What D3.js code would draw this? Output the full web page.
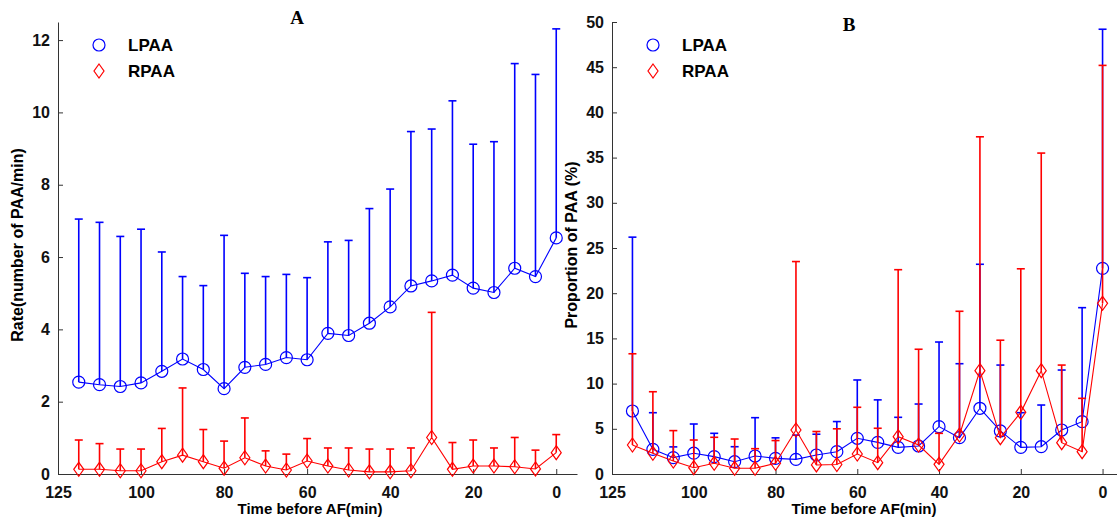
<!DOCTYPE html>
<html>
<head>
<meta charset="utf-8">
<script src="https://cdn.jsdelivr.net/npm/d3@7"></script>
<style>
  body { margin: 0; background: #fff; }
  text { font-family: "Liberation Sans", Arial, sans-serif; }
  .tick text { font-weight: bold; font-size: 16px; fill: #111; }
  .axis path, .axis line { stroke: #333; }
</style>
</head>
<body>
<div id="chart"></div>
<script>
// time before AF (min)
var times = [115, 110, 105, 100, 95, 90, 85, 80, 75, 70, 65, 60, 55, 50, 45, 40, 35, 30, 25, 20, 15, 10, 5, 0];
var xTickValues = [120, 100, 80, 60, 40, 20, 0];
var xTickLabels = ["125", "100", "80", "60", "40", "20", "0"];

// panel A: rate (number of PAA/min), mean and upper error
var rateL = [2.54, 2.47, 2.42, 2.52, 2.84, 3.18, 2.89, 2.36, 2.95, 3.03, 3.22, 3.16, 3.89, 3.83, 4.17, 4.62, 5.2, 5.34, 5.5, 5.14, 5.02, 5.69, 5.46, 6.53];
var rateLTop = [7.05, 6.96, 6.57, 6.77, 6.14, 5.46, 5.21, 6.6, 5.55, 5.46, 5.52, 5.43, 6.42, 6.46, 7.34, 7.88, 9.47, 9.54, 10.32, 9.12, 9.19, 11.35, 11.05, 12.31];
var rateR = [0.13, 0.13, 0.09, 0.09, 0.34, 0.52, 0.34, 0.16, 0.45, 0.22, 0.11, 0.36, 0.22, 0.11, 0.06, 0.06, 0.09, 1.01, 0.13, 0.22, 0.22, 0.2, 0.14, 0.59];
var rateRTop = [0.94, 0.84, 0.69, 0.69, 1.26, 2.38, 1.23, 0.91, 1.55, 0.64, 0.55, 0.98, 0.72, 0.72, 0.69, 0.69, 0.72, 4.47, 0.87, 0.94, 0.72, 1.01, 0.66, 1.09];
var rateTicks = [0, 2, 4, 6, 8, 10, 12];

// panel B: proportion of PAA (%), mean and upper error
var propL = [6.97, 2.73, 1.81, 2.3, 1.92, 1.36, 1.99, 1.73, 1.62, 2.1, 2.47, 3.95, 3.5, 2.95, 3.1, 5.24, 4.02, 7.27, 4.76, 2.95, 3.02, 4.87, 5.79, 22.75];
var propLTop = [26.2, 6.78, 3.0, 5.53, 4.5, 3.02, 6.23, 4.0, 4.3, 4.4, 5.8, 10.4, 8.2, 6.27, 7.74, 14.6, 12.2, 23.2, 12.05, 6.78, 7.63, 11.5, 18.4, 49.2];
var propR = [3.21, 2.29, 1.44, 0.7, 1.18, 0.63, 0.63, 1.18, 4.87, 1.0, 1.05, 2.21, 1.25, 4.13, 3.21, 1.07, 4.31, 11.43, 4.02, 6.82, 11.43, 3.47, 2.47, 18.88];
var propRTop = [13.3, 9.1, 4.8, 3.76, 4.06, 3.87, 2.8, 3.7, 23.5, 4.7, 5.0, 7.38, 5.06, 22.6, 13.8, 4.5, 18.0, 37.3, 14.8, 22.7, 35.5, 12.05, 8.37, 45.2];
var propTicks = [0, 5, 10, 15, 20, 25, 30, 35, 40, 45, 50];

var blue = "#0000ff";
var red = "#ff0000";

var svg = d3.select("#chart")
  .append("svg")
  .attr("width", 1117)
  .attr("height", 521);

function drawPanel(opt) {
  var g = svg.append("g");

  var xScale = d3.scaleLinear().domain([120, -5]).range([opt.left, opt.left + opt.width]);
  var yScale = d3.scaleLinear().domain([0, opt.yMax]).range([474, 474 - opt.yPx]);

  // axes, ticks pointing inward like matlab
  g.append("g")
    .attr("class", "axis")
    .attr("transform", "translate(0,474)")
    .call(d3.axisBottom(xScale).tickValues(xTickValues)
      .tickFormat(function (d, i) { return xTickLabels[i]; })
      .tickSizeInner(-5).tickSizeOuter(0).tickPadding(10))
    .call(function (a) { a.selectAll(".tick text").attr("dy", "0.9em"); });

  g.append("g")
    .attr("class", "axis")
    .attr("transform", "translate(" + opt.left + ",0)")
    .call(d3.axisLeft(yScale).tickValues(opt.yTicks)
      .tickSizeInner(-5).tickSizeOuter(0).tickPadding(8));

  // error bars and lines
  var series = [
    { mean: opt.l, top: opt.lTop, color: blue, shape: "circle" },
    { mean: opt.r, top: opt.rTop, color: red, shape: "diamond" }
  ];

  var line = d3.line()
    .x(function (d) { return xScale(d[0]); })
    .y(function (d) { return yScale(d[1]); });

  series.forEach(function (s) {
    var pts = times.map(function (t, i) { return [t, s.mean[i], s.top[i]]; });
    var sg = g.append("g");

    sg.selectAll(".err")
      .data(pts)
      .join("line")
      .attr("x1", function (d) { return xScale(d[0]); })
      .attr("x2", function (d) { return xScale(d[0]); })
      .attr("y1", function (d) { return yScale(d[1]); })
      .attr("y2", function (d) { return yScale(d[2]); })
      .attr("stroke", s.color)
      .attr("stroke-width", 1.6);

    sg.selectAll(".cap")
      .data(pts)
      .join("line")
      .attr("x1", function (d) { return xScale(d[0]) - 4; })
      .attr("x2", function (d) { return xScale(d[0]) + 4; })
      .attr("y1", function (d) { return yScale(d[2]); })
      .attr("y2", function (d) { return yScale(d[2]); })
      .attr("stroke", s.color)
      .attr("stroke-width", 1.6);

    sg.append("path")
      .attr("d", line(pts))
      .attr("fill", "none")
      .attr("stroke", s.color)
      .attr("stroke-width", 1.1);

    drawMarkers(sg, pts.map(function (d) { return [xScale(d[0]), yScale(d[1])]; }), s.shape, s.color);
  });

  // legend
  drawMarkers(g, [[opt.left + 41, 45]], "circle", blue);
  drawMarkers(g, [[opt.left + 41, 71]], "diamond", red);
  g.append("text").attr("x", opt.left + 70).attr("y", 51)
    .style("font-weight", "bold").style("font-size", "17px").text("LPAA");
  g.append("text").attr("x", opt.left + 70).attr("y", 77)
    .style("font-weight", "bold").style("font-size", "17px").text("RPAA");

  // title
  g.append("text")
    .attr("x", opt.titleX).attr("y", opt.titleY)
    .style("font-family", "'Liberation Serif', 'Times New Roman', serif")
    .style("font-weight", "bold").style("font-size", "19px")
    .style("text-anchor", "middle")
    .text(opt.title);

  // axis labels
  g.append("text")
    .attr("x", opt.left + 252).attr("y", 514)
    .style("font-weight", "bold").style("font-size", "15px")
    .style("text-anchor", "middle")
    .text("Time before AF(min)");

  g.append("text")
    .attr("transform", "rotate(-90)")
    .attr("x", -245).attr("y", opt.left - 35)
    .style("font-weight", "bold").style("font-size", "16px")
    .style("text-anchor", "middle")
    .text(opt.yLabel);
}

function drawMarkers(g, pts, shape, color) {
  if (shape === "circle") {
    g.selectAll(null)
      .data(pts)
      .join("circle")
      .attr("cx", function (d) { return d[0]; })
      .attr("cy", function (d) { return d[1]; })
      .attr("r", 6)
      .attr("fill", "none")
      .attr("stroke", color)
      .attr("stroke-width", 1.2);
  } else {
    g.selectAll(null)
      .data(pts)
      .join("path")
      .attr("d", function (d) {
        return "M" + d[0] + "," + (d[1] - 7) + "L" + (d[0] + 5) + "," + d[1] +
          "L" + d[0] + "," + (d[1] + 7) + "L" + (d[0] - 5) + "," + d[1] + "Z";
      })
      .attr("fill", "none")
      .attr("stroke", color)
      .attr("stroke-width", 1.2);
  }
}

drawPanel({
  left: 58, width: 519, yMax: 12.5, yPx: 452, yTicks: rateTicks,
  l: rateL, lTop: rateLTop, r: rateR, rTop: rateRTop,
  title: "A", titleX: 297, titleY: 24,
  yLabel: "Rate(number of PAA/min)"
});

drawPanel({
  left: 612, width: 511, yMax: 50, yPx: 452, yTicks: propTicks,
  l: propL, lTop: propLTop, r: propR, rTop: propRTop,
  title: "B", titleX: 849, titleY: 31,
  yLabel: "Proportion of PAA (%)"
});
</script>
</body>
</html>
